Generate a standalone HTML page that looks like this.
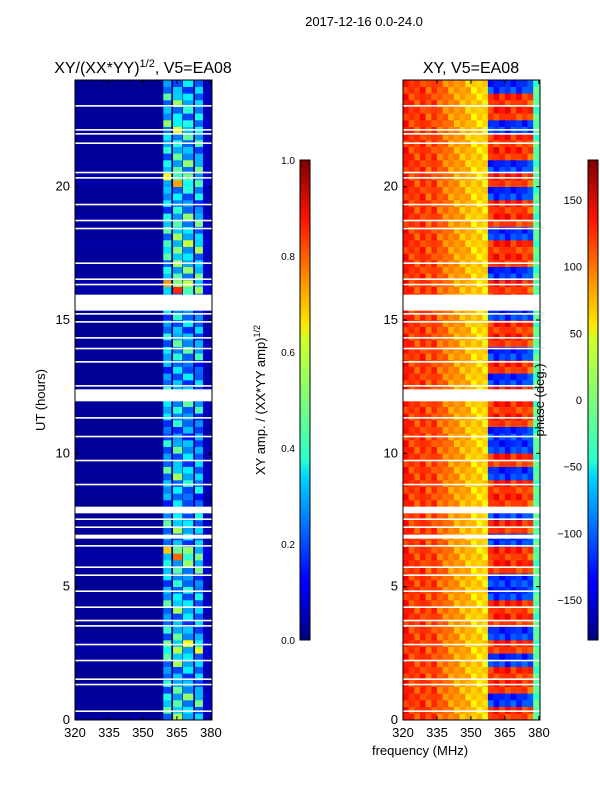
<!DOCTYPE html>
<html><head><meta charset="utf-8"><style>
body{margin:0;background:#fff;font-family:"Liberation Sans",sans-serif;}
svg text{font-family:"Liberation Sans",sans-serif;fill:#000;}
</style></head><body>
<svg id="fig" width="600" height="800" xmlns="http://www.w3.org/2000/svg">
<defs>
<linearGradient id="jet" x1="0" y1="1" x2="0" y2="0">
<stop offset="0" stop-color="#00007f"/><stop offset="0.11" stop-color="#0000ff"/><stop offset="0.125" stop-color="#0000ff"/>
<stop offset="0.34" stop-color="#00d4ff"/><stop offset="0.375" stop-color="#29ffce"/><stop offset="0.5" stop-color="#7dff7a"/>
<stop offset="0.625" stop-color="#ceff29"/><stop offset="0.66" stop-color="#ffe600"/><stop offset="0.875" stop-color="#ff1400"/>
<stop offset="1" stop-color="#7f0000"/></linearGradient>
<clipPath id="clipL"><rect x="75" y="80" width="137" height="640"/></clipPath>
<clipPath id="clipR"><rect x="403" y="80" width="137" height="640"/></clipPath>
</defs>
<text x="364" y="26" text-anchor="middle" font-size="13">2017-12-16 0.0-24.0</text>
<text x="143" y="73" text-anchor="middle" font-size="16">XY/(XX*YY)<tspan font-size="11" dy="-6">1/2</tspan><tspan dy="6">, V5=EA08</tspan></text>
<text x="471" y="73" text-anchor="middle" font-size="16">XY, V5=EA08</text>
<rect x="75" y="80" width="137" height="640" fill="#00007f"/>
<g id="left" clip-path="url(#clipL)"></g>
<g id="right" clip-path="url(#clipR)"></g>
<g id="axes"></g>
<rect x="300" y="160" width="10" height="480" fill="url(#jet)" stroke="#000"/>
<rect x="588" y="160" width="10" height="480" fill="url(#jet)" stroke="#000"/>
<text transform="translate(265,400) rotate(-90)" text-anchor="middle" font-size="13">XY amp. / (XX*YY amp)<tspan font-size="9" dy="-5">1/2</tspan></text>
<text transform="translate(544,400) rotate(-90)" text-anchor="middle" font-size="13">phase (deg.)</text>
<text transform="translate(45,400) rotate(-90)" text-anchor="middle" font-size="13">UT (hours)</text>
<text x="420" y="755" text-anchor="middle" font-size="13">frequency (MHz)</text>
</svg>
<script>
const hourTicks=[0,5,10,15,20];
const freqTicks=[320,335,350,365,380];
const ampTicks=[0.0,0.2,0.4,0.6,0.8,1.0];
const phaseTicks=[150,100,50,0,-50,-100,-150];
const bandStart=[320,359,363.3,367.7,373,376.5];
const bandEnd=[359,362.4,367.3,372.1,376.5,380.5];
const bandAmp=[0.03,0.4,0.46,0.4,0.38,0.07];
const rowAmp=[0.9,1.0,0.8,0.7,0.9,1.2,0.8,0.7,0.9,0.8,0.7,1.0,1.3,0.7,0.9,0.8,0.6,0.8,0.9,0.7,0.8,0.6,0.7,0.9,0.8,0.7,0.6,0.9,0.8,0.7,0.7,0.8,1.4,1.0,0.9,1.1,0.9,1.0,0.7,0.8,1.2,1.0,0.8,0.9,1.0,0.8,0.9,0.7];
const subMod=[1.0,0.6,1.3,0.8];
const colPhase=[125,115,110,120,105,115,100,95,85,80,75,70,60,60,55,120,130,125,130,120,125,120,115,-15,-20];
const rowFlip=[1,-1,1,1,-1,1,-1,1,1,-1,-1,1,1,-1,1,-1,1,1,-1,1,-1,-1,1,1,1,-1,1,-1,1,1,-1,1,1,-1,1,1,-1,1,1,-1,1,-1,1,1,-1,1,1,-1];
const subPhase=[0,12,-15,6];
const gapStart=[15.35,11.95,7.75,6.8,23.0,22.1,21.95,21.6,20.5,20.3,19.3,18.7,18.4,17.1,16.5,16.3,15.2,14.9,14.3,13.9,13.4,12.5,11.3,10.6,9.7,8.8,7.5,7.2,6.5,5.7,5.4,4.8,4.2,3.7,3.5,2.8,2.2,1.5,1.3,0.3];
const gapLen=[0.6,0.45,0.25,0.15,0.06,0.06,0.06,0.06,0.06,0.06,0.06,0.06,0.06,0.06,0.06,0.06,0.06,0.06,0.06,0.06,0.06,0.06,0.06,0.06,0.06,0.06,0.06,0.06,0.06,0.06,0.06,0.06,0.06,0.06,0.06,0.06,0.06,0.06,0.06,0.06];

const NS='http://www.w3.org/2000/svg';
function jet(v){v=Math.max(0,Math.min(1,v));
 const r=Math.max(0,Math.min(1,1.5-Math.abs(4*v-3))),g=Math.max(0,Math.min(1,1.5-Math.abs(4*v-2))),b=Math.max(0,Math.min(1,1.5-Math.abs(4*v-1)));
 return `rgb(${Math.round(r*255)},${Math.round(g*255)},${Math.round(b*255)})`;}
function yS(h){return 720-h/24*640;}
function xL(f){return 75+(f-320)/60.5*137;}
function xR(f){return 403+(f-320)/60.5*137;}
function mk(tag,p,parent){const e=document.createElementNS(NS,tag);for(const k in p)e.setAttribute(k,p[k]);parent.appendChild(e);return e;}
const L=document.getElementById('left'),R=document.getElementById('right'),A=document.getElementById('axes');
for(let r=0;r<96;r++){const h0=r*0.25;
 for(let b=0;b<bandStart.length;b++){
  const v=bandAmp[b]*rowAmp[Math.floor(r/2)]*(b===0||b===5?1:subMod[(r+b)%4]);
  const e=mk('rect',{x:xL(bandStart[b]),y:yS(h0+0.25),width:xL(bandEnd[b])-xL(bandStart[b])+0.3,height:640/96+0.3,fill:jet(v)},L);
  
  
 }}
for(let r=0;r<96;r++){const h0=r*0.25;
 for(let c=0;c<colPhase.length;c++){
  const f=320+c*2.5;let p=colPhase[c];
  if(f>=357.5&&f<377.5)p=p*rowFlip[Math.floor(r/2)]*(r%2?1:0.9);
  p=p+subPhase[(r+c)%4];
  const e=mk('rect',{x:xR(f),y:yS(h0+0.25),width:xR(f+2.5)-xR(f)+0.3,height:640/96+0.3,fill:jet((p+180)/360)},R);
  
  
 }}
for(let i=0;i<gapStart.length;i++){
 for(const x0 of [75,403]){
  const e=mk('rect',{x:x0,y:yS(gapStart[i]+gapLen[i]),width:137,height:Math.max(1.5,gapLen[i]/24*640),fill:'#fff'},A);
  
  
 }}
for(const [x0,xf] of [[75,xL],[403,xR]]){
 const fr=mk('rect',{x:x0,y:80,width:137,height:640,fill:'none',stroke:'#000','stroke-width':1},A);
 
 
 for(const h of hourTicks){const y=yS(h);
  mk('line',{x1:x0,x2:x0+4,y1:y,y2:y,stroke:'#000'},A);mk('line',{x1:x0+137,x2:x0+133,y1:y,y2:y,stroke:'#000'},A);
  const t=mk('text',{x:x0-5,y:y+4,'text-anchor':'end','font-size':13},A);t.textContent=h;
  
  }
 for(const f of freqTicks){const x=xf(f);
  mk('line',{x1:x,x2:x,y1:720,y2:716,stroke:'#000'},A);mk('line',{x1:x,x2:x,y1:80,y2:84,stroke:'#000'},A);
  const t=mk('text',{x:x,y:737,'text-anchor':'middle','font-size':13},A);t.textContent=f;
  
  }
}
for(const v of ampTicks){const y=640-v*480;
 mk('line',{x1:300,x2:304,y1:y,y2:y,stroke:'#000'},A);
 const t=mk('text',{x:295,y:y+4,'text-anchor':'end','font-size':10},A);t.textContent=v.toFixed(1);
 
 }
for(const v of phaseTicks){const y=400-v/180*240;
 mk('line',{x1:588,x2:592,y1:y,y2:y,stroke:'#000'},A);
 const t=mk('text',{x:582,y:y+4,'text-anchor':'end','font-size':11},A);t.textContent=v<0?'\u2212'+(-v):v;
 
 }
</script>
</body></html>
